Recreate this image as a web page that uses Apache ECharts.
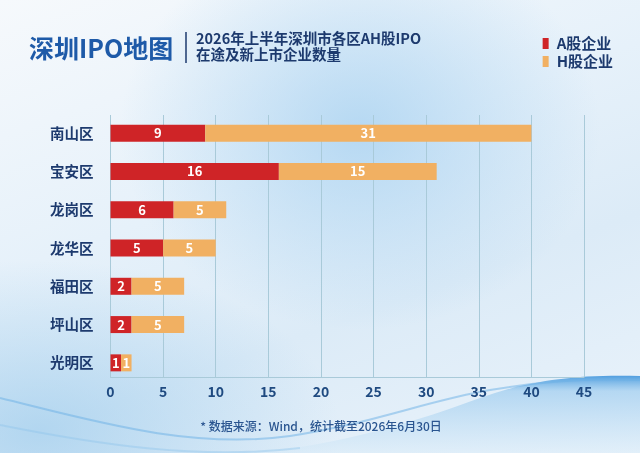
<!DOCTYPE html>
<html>
<head>
<meta charset="utf-8">
<script src="https://cdn.jsdelivr.net/npm/echarts@6/dist/echarts.min.js"></script>
<style>
html,body{margin:0;padding:0;width:640px;height:453px;overflow:hidden;}
body{
  background:
    radial-gradient(ellipse 240px 200px at 360px 130px, rgba(165,208,240,0.75), rgba(165,208,240,0) 100%),
    radial-gradient(ellipse 300px 170px at 40px 430px, rgba(150,200,235,0.6), rgba(150,200,235,0) 100%),
    linear-gradient(160deg, #f6f9fc 0%, #e6f1fa 40%, #dcebf7 65%, #eaf3fb 100%);
  position:relative;
}
#bg{position:absolute;left:0;top:0;width:640px;height:453px;}
#chart{position:absolute;left:0;top:0;width:640px;height:453px;}
</style>
</head>
<body>
<svg id="bg" viewBox="0 0 640 453" xmlns="http://www.w3.org/2000/svg">
  <defs>
    <linearGradient id="wv" x1="0" y1="0" x2="0" y2="1">
      <stop offset="0" stop-color="#3f95dc" stop-opacity="0.9"/>
      <stop offset="0.2" stop-color="#8cc3ec" stop-opacity="0.55"/>
      <stop offset="1" stop-color="#d8ebf8" stop-opacity="0.45"/>
    </linearGradient>
  </defs>
  <path d="M250,453 C340,446 420,420 480,398 C525,382 570,374 640,376 L640,453 Z" fill="url(#wv)"/>
  <path d="M0,398 C90,420 190,450 290,436 C370,424 430,400 490,390 C550,380 600,378 640,380" fill="none" stroke="#6ab0e6" stroke-opacity="0.5" stroke-width="2"/>
  <path d="M0,425 C100,445 200,460 300,448" fill="none" stroke="#8cc3ec" stroke-opacity="0.4" stroke-width="2"/>
</svg>
<div id="chart"></div>
<script>
const categories = ['南山区','宝安区','龙岗区','龙华区','福田区','坪山区','光明区'];
const aShares = [9, 16, 6, 5, 2, 2, 1];
const hShares = [31, 15, 5, 5, 5, 5, 1];
const xTicks = {min: 0, max: 45, interval: 5};
const seriesNames = ['A股企业','H股企业'];

const FONT = '"Noto Sans CJK SC", "Noto Sans", sans-serif';
const NAVY = '#1d3a6e';
const chart = echarts.init(document.getElementById('chart'));
chart.setOption({
  backgroundColor: 'transparent',
  textStyle: {fontFamily: FONT},
  title: {
    text: '深圳IPO地图',
    left: 24, top: 31,
    textStyle: {fontFamily: FONT, fontSize: 25, fontWeight: 'bold', color: '#1e5aa8'}
  },
  legend: {
    orient: 'vertical', right: 22, top: 31,
    itemWidth: 6, itemHeight: 11, itemGap: 3,
    icon: 'rect',
    textStyle: {fontFamily: FONT, fontSize: 15, fontWeight: 'bold', color: NAVY, padding: [0,0,0,3]},
    data: seriesNames
  },
  graphic: [
    {type: 'line', shape: {x1: 186, y1: 32, x2: 186, y2: 63}, style: {stroke: NAVY, lineWidth: 1.5}},
    {type: 'text', x: 196, y: 31, style: {text: '2026年上半年深圳市各区AH股IPO', font: 'bold 14.5px ' + FONT, fill: NAVY}},
    {type: 'text', x: 196, y: 47, style: {text: '在途及新上市企业数量', font: 'bold 14.5px ' + FONT, fill: NAVY}},
    {type: 'text', x: 321, y: 420, style: {text: '* 数据来源：Wind，统计截至2026年6月30日', font: '500 12px ' + FONT, fill: '#2a5590', align: 'center'}}
  ],
  grid: [
    {left: 110.5, right: 56, top: 114, bottom: 71, containLabel: false},
    {left: 110.5, right: 56, top: 115, bottom: 76, containLabel: false}
  ],
  xAxis: [
    {
      gridIndex: 0, type: 'value', min: xTicks.min, max: xTicks.max, interval: xTicks.interval,
      axisLine: {show: false}, axisTick: {show: false}, axisLabel: {show: false}, splitLine: {show: false}
    },
    {
      gridIndex: 1, type: 'value', min: xTicks.min, max: xTicks.max, interval: xTicks.interval,
      axisLine: {show: true, lineStyle: {color: '#a9cad9', width: 1}},
      axisTick: {show: false},
      axisLabel: {fontFamily: FONT, fontSize: 14, fontWeight: 'bold', color: '#1f4a80', margin: 8},
      splitLine: {show: true, lineStyle: {color: '#a9cad9', width: 1}}
    }
  ],
  yAxis: [
    {
      gridIndex: 0, type: 'category', inverse: true, data: categories,
      axisLine: {show: false},
      axisTick: {show: false},
      axisLabel: {fontFamily: FONT, fontSize: 14.5, fontWeight: 'bold', color: NAVY, margin: 17}
    },
    {
      gridIndex: 1, type: 'category', inverse: true, data: categories,
      axisLine: {show: false}, axisTick: {show: false}, axisLabel: {show: false}
    }
  ],
  series: [
    {
      name: seriesNames[0], type: 'bar', stack: 'total', data: aShares, barWidth: 17,
      xAxisIndex: 0, yAxisIndex: 0,
      itemStyle: {color: '#cf2427'},
      label: {show: true, position: 'inside', color: '#fff', fontFamily: FONT, fontSize: 13, fontWeight: 'bold'}
    },
    {
      name: seriesNames[1], type: 'bar', stack: 'total', data: hShares, barWidth: 17,
      xAxisIndex: 0, yAxisIndex: 0,
      itemStyle: {color: '#f1b062'},
      label: {show: true, position: 'inside', color: '#fff', fontFamily: FONT, fontSize: 13, fontWeight: 'bold'}
    }
  ]
});
</script>
</body>
</html>
